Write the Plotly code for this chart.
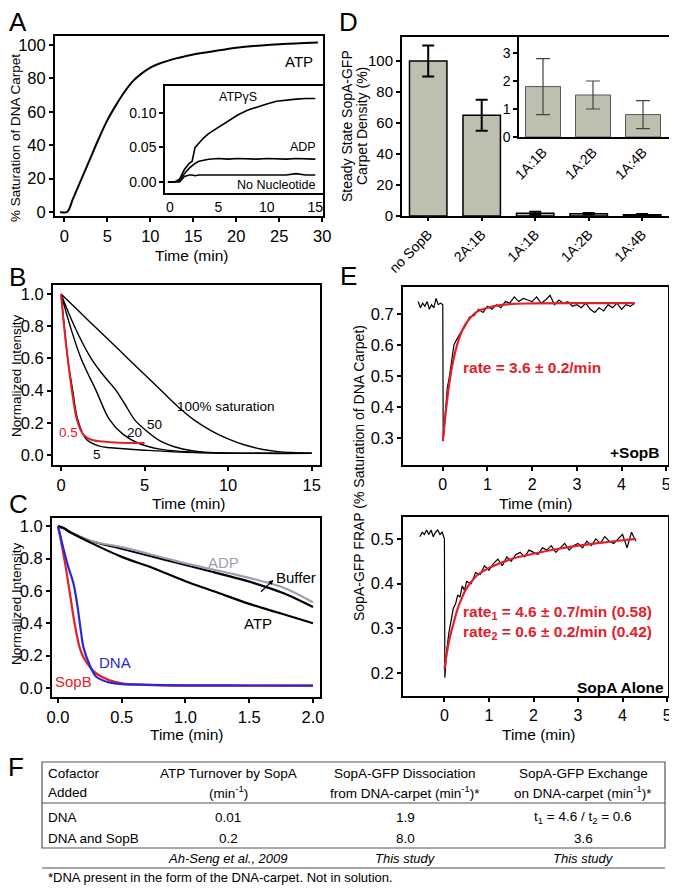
import plotly.graph_objects as go

W, H = 677, 888
OFF = 8          # the page body margin moves the figure by this much
FW, FH = W - OFF, H - OFF
FONT = 'Liberation Sans, Arial, sans-serif'
NARROW = 'Liberation Sans Narrow, Arial Narrow, Liberation Sans, sans-serif'
RED = '#e3202a'
BLUE = '#2828d8'
GRAY = '#9d9db2'
BAR = '#bfbfb0'

# ---- panel A : saturation of DNA carpet with ATP
a_time = [-0.5, 0.3, 1, 2, 3, 4, 5, 6, 7, 8, 9, 10, 11, 12, 13, 14, 15,
          16, 17, 18, 19, 20, 22, 24, 26, 28, 29.5]
a_atp = [0, 0, 8, 20, 32, 44, 55, 64, 72, 78.5, 83, 86.5, 88.8, 90.5, 92, 93.2, 94.3,
         95.2, 96, 96.8, 97.6, 98.3, 99.4, 100.2, 100.8, 101.2, 101.5]

# inset of A
ins_time = [-0.2, 0.5, 1, 1.5, 2, 2.3, 2.6, 3, 3.5, 4, 5, 6, 7, 8, 9, 10, 11, 12, 13, 14, 15]
ins_atpgs = [0, 0, 0.004, 0.018, 0.027, 0.03, 0.05, 0.057, 0.064, 0.07, 0.079, 0.089,
             0.097, 0.104, 0.109, 0.113, 0.117, 0.119, 0.12, 0.121, 0.121]
ins_adp = [0, 0, 0.002, 0.012, 0.02, 0.024, 0.027, 0.03, 0.032, 0.033, 0.034, 0.033,
           0.034, 0.033, 0.033, 0.034, 0.033, 0.033, 0.034, 0.033, 0.033]
ins_nonuc = [0, 0, 0, 0.008, 0.01, 0.01, 0.009, 0.01, 0.01, 0.01, 0.011, 0.01,
             0.01, 0.011, 0.01, 0.01, 0.011, 0.01, 0.012, 0.01, 0.01]

# ---- panel B : dissociation at different saturation
b100_t = [0, 1, 2, 3, 4, 5, 6, 7, 8, 9, 10, 11, 12, 13, 14, 15]
b100_v = [1, 0.9, 0.8, 0.7, 0.6, 0.5, 0.4, 0.3, 0.215, 0.15, 0.1, 0.062, 0.036, 0.021, 0.015, 0.012]
b50_t = [0, 0.8, 1.8, 2.5, 3.3, 3.8, 4.4, 5, 5.9, 7, 8.3, 10, 15]
b50_v = [1, 0.8, 0.6, 0.5, 0.4, 0.32, 0.22, 0.16, 0.09, 0.045, 0.02, 0.012, 0.01]
b20_t = [0, 0.55, 1.2, 2.1, 2.9, 3.7, 4.7, 6, 8, 10, 15]
b20_v = [1, 0.8, 0.6, 0.4, 0.22, 0.13, 0.07, 0.035, 0.018, 0.012, 0.01]
b5_t = [0, 0.2, 0.4, 0.7, 1.0, 1.5, 2.3, 3, 5, 8, 15]
b5_v = [1, 0.8, 0.6, 0.4, 0.22, 0.1, 0.055, 0.045, 0.03, 0.015, 0.01]
b05_t = [0, 0.18, 0.4, 0.65, 0.95, 1.25, 1.6, 2, 3, 4, 5]
b05_v = [1, 0.8, 0.6, 0.4, 0.22, 0.14, 0.105, 0.09, 0.08, 0.075, 0.075]

# ---- panel C : dissociation with cofactors
c_buf_t = [0, 0.05, 0.1, 0.25, 0.5, 0.85, 1.0, 1.2, 1.37, 1.55, 1.77, 2.0]
c_buf_v = [1.0, 0.985, 0.96, 0.91, 0.86, 0.79, 0.76, 0.72, 0.685, 0.645, 0.585, 0.5]
c_adp_t = [0, 0.05, 0.1, 0.25, 0.5, 0.85, 1.0, 1.2, 1.37, 1.55, 1.77, 2.0]
c_adp_v = [1.0, 0.985, 0.96, 0.91, 0.87, 0.8, 0.77, 0.735, 0.705, 0.67, 0.62, 0.53]
c_atp_t = [0, 0.05, 0.1, 0.25, 0.5, 0.75, 1.0, 1.25, 1.5, 1.75, 2.0]
c_atp_v = [1.0, 0.985, 0.96, 0.9, 0.81, 0.74, 0.66, 0.59, 0.52, 0.46, 0.4]
c_sopb_t = [0, 0.03, 0.06, 0.1, 0.13, 0.17, 0.2, 0.25, 0.3, 0.4, 0.5, 0.7, 1.0, 1.5, 2.0]
c_sopb_v = [1.0, 0.88, 0.75, 0.55, 0.4, 0.25, 0.19, 0.13, 0.09, 0.05, 0.03, 0.02, 0.015, 0.015, 0.015]
c_dna_t = [0, 0.04, 0.08, 0.12, 0.15, 0.18, 0.2, 0.25, 0.3, 0.4, 0.5, 0.7, 1.0, 1.5, 2.0]
c_dna_v = [1.0, 0.87, 0.75, 0.65, 0.52, 0.35, 0.25, 0.14, 0.07, 0.035, 0.025, 0.02, 0.017, 0.016, 0.015]

# ---- panel D : steady state density
d_cats = ['no SopB', '2A:1B', '1A:1B', '1A:2B', '1A:4B']
d_vals = [100, 65, 1.8, 1.5, 0.8]
d_err = [10, 10, 1.0, 0.5, 0.5]
d_ins_cats = ['1A:1B', '1A:2B', '1A:4B']
d_ins_vals = [1.8, 1.5, 0.8]
d_ins_err = [1.0, 0.5, 0.5]

# ---- panel E : FRAP
e1_t = [-0.55, -0.5, -0.45, -0.4, -0.35, -0.3, -0.25, -0.2, -0.15, -0.1, -0.05, 0.0, 0.01,
        0.05, 0.1, 0.15, 0.2, 0.25, 0.3, 0.4, 0.5, 0.6, 0.7, 0.8, 0.9, 1.0, 1.1, 1.2, 1.3,
        1.4, 1.5, 1.6, 1.7, 1.8, 1.9, 2.0, 2.1, 2.2, 2.3, 2.4, 2.5, 2.6, 2.7, 2.8, 2.9, 3.0,
        3.1, 3.2, 3.3, 3.4, 3.5, 3.6, 3.7, 3.8, 3.9, 4.0, 4.1, 4.2, 4.3]
e1_v = [0.74, 0.72, 0.735, 0.725, 0.74, 0.715, 0.73, 0.72, 0.75, 0.73, 0.735, 0.73, 0.29,
        0.36, 0.46, 0.5, 0.55, 0.6, 0.615, 0.64, 0.66, 0.69, 0.695, 0.715, 0.705, 0.725, 0.715,
        0.73, 0.72, 0.74, 0.735, 0.755, 0.74, 0.75, 0.745, 0.74, 0.755, 0.735, 0.745, 0.76,
        0.73, 0.745, 0.735, 0.74, 0.725, 0.73, 0.72, 0.735, 0.715, 0.705, 0.72, 0.71, 0.73,
        0.72, 0.735, 0.715, 0.73, 0.725, 0.735]
e1_fit_t = [0, 0.05, 0.1, 0.15, 0.2, 0.25, 0.3, 0.4, 0.5, 0.6, 0.7, 0.8, 1.0, 1.2, 1.5, 2, 3, 4.3]
e1_fit_v = [0.29, 0.36, 0.425, 0.48, 0.525, 0.56, 0.59, 0.635, 0.665, 0.685, 0.7, 0.71,
            0.72, 0.727, 0.732, 0.734, 0.735, 0.735]

e2_t = [-0.55, -0.5, -0.45, -0.4, -0.35, -0.3, -0.25, -0.2, -0.15, -0.1, -0.05, 0.0, 0.01,
        0.05, 0.1, 0.15, 0.2, 0.25, 0.3, 0.35, 0.4, 0.45, 0.5, 0.6, 0.7, 0.8, 0.9, 1.0, 1.1,
        1.2, 1.3, 1.4, 1.5, 1.6, 1.7, 1.8, 1.9, 2.0, 2.1, 2.2, 2.3, 2.4, 2.5, 2.6, 2.7, 2.8,
        2.9, 3.0, 3.1, 3.2, 3.3, 3.4, 3.5, 3.6, 3.7, 3.8, 3.9, 4.0, 4.1, 4.2, 4.3]
e2_v = [0.505, 0.515, 0.51, 0.52, 0.51, 0.52, 0.505, 0.515, 0.52, 0.51, 0.515, 0.5, 0.19,
        0.25, 0.29, 0.32, 0.345, 0.355, 0.375, 0.37, 0.395, 0.385, 0.405, 0.4, 0.425, 0.42,
        0.44, 0.43, 0.445, 0.455, 0.44, 0.46, 0.45, 0.465, 0.47, 0.46, 0.475, 0.47, 0.465,
        0.48, 0.475, 0.485, 0.47, 0.48, 0.49, 0.475, 0.485, 0.49, 0.48, 0.495, 0.485, 0.5,
        0.49, 0.505, 0.495, 0.49, 0.5, 0.51, 0.48, 0.515, 0.495]
e2_fit_t = [0, 0.1, 0.2, 0.3, 0.4, 0.5, 0.75, 1, 1.5, 2, 2.5, 3, 3.5, 4, 4.3]
e2_fit_v = [0.21, 0.27, 0.31, 0.345, 0.37, 0.39, 0.42, 0.435, 0.455, 0.467, 0.477, 0.485,
            0.491, 0.497, 0.5]

# ---- panel F : table
f_head1 = ['Cofactor', 'ATP Turnover by SopA', 'SopA-GFP Dissociation', 'SopA-GFP Exchange']
f_head2 = ['Added', '(min<sup>-1</sup>)', 'from DNA-carpet (min<sup>-1</sup>)*',
           'on DNA-carpet (min<sup>-1</sup>)*']
f_row1 = ['DNA', '0.01', '1.9', 't<sub>1</sub> = 4.6 / t<sub>2</sub> = 0.6']
f_row2 = ['DNA and SopB', '0.2', '8.0', '3.6']
f_cite = ['', 'Ah-Seng et al., 2009', 'This study', 'This study']
f_note = '*DNA present in the form of the DNA-carpet. Not in solution.'


# positions below are pixels of the 677x888 page
def px(x):
    return (x - OFF) / FW


def py(y):
    return 1 - (y - OFF) / FH


def dom(x0, x1, y0, y1):
    return [px(x0), px(x1)], [py(y1), py(y0)]


base = dict(showline=True, mirror=True, linecolor='black', linewidth=2,
            ticks='outside', ticklen=4, tickwidth=1.5, tickcolor='black',
            showgrid=False, zeroline=False, automargin=False,
            tickfont=dict(size=16.5, color='black', family=FONT))
small = dict(base, linewidth=1.5, ticklen=4, tickfont=dict(size=14, color='black', family=FONT))

fig = go.Figure()


def line(x, y, xa, ya, color='black', width=1.8, shape='spline'):
    fig.add_trace(go.Scatter(x=x, y=y, xaxis=xa, yaxis=ya, mode='lines',
                             line=dict(color=color, width=width, shape=shape),
                             showlegend=False, hoverinfo='skip'))


line(a_time, a_atp, 'x', 'y', width=2)
line(ins_time, ins_atpgs, 'x2', 'y2', width=1.6, shape='linear')
line(ins_time, ins_adp, 'x2', 'y2', width=1.6, shape='linear')
line(ins_time, ins_nonuc, 'x2', 'y2', width=1.6, shape='linear')

for t, v in [(b100_t, b100_v), (b50_t, b50_v), (b20_t, b20_v), (b5_t, b5_v)]:
    line(t, v, 'x3', 'y3', width=1.4)
line(b05_t, b05_v, 'x3', 'y3', color=RED, width=2)

line(c_buf_t, c_buf_v, 'x4', 'y4', width=2.2)
line(c_adp_t, c_adp_v, 'x4', 'y4', color=GRAY, width=2.2)
line(c_atp_t, c_atp_v, 'x4', 'y4', width=2.2)
line(c_sopb_t, c_sopb_v, 'x4', 'y4', color=RED, width=2.2)
line(c_dna_t, c_dna_v, 'x4', 'y4', color=BLUE, width=2.2)

fig.add_trace(go.Bar(x=d_cats, y=d_vals, xaxis='x5', yaxis='y5', showlegend=False,
                     marker=dict(color=BAR, line=dict(color='black', width=1.5)),
                     error_y=dict(type='data', array=d_err, color='black', thickness=2, width=6)))
fig.add_trace(go.Bar(x=d_ins_cats, y=d_ins_vals, xaxis='x6', yaxis='y6', showlegend=False,
                     marker=dict(color=BAR, line=dict(color='#555555', width=1)),
                     error_y=dict(type='data', array=d_ins_err, color='#444444', thickness=1.2, width=7)))

line(e1_t, e1_v, 'x7', 'y7', width=1.2, shape='linear')
line(e1_fit_t, e1_fit_v, 'x7', 'y7', color=RED, width=2.2)
line(e2_t, e2_v, 'x8', 'y8', width=1.2, shape='linear')
line(e2_fit_t, e2_fit_v, 'x8', 'y8', color=RED, width=2.2)

layout = dict(template='none', width=FW, height=FH, margin=dict(l=0, r=0, t=0, b=0, pad=0),
              paper_bgcolor='white', plot_bgcolor='white', bargap=0.3,
              font=dict(family=FONT, color='black'))

xd, yd = dom(55, 323, 36, 216)
layout['xaxis'] = dict(base, domain=xd, anchor='y', range=[-1.1, 30.1], tickvals=[0, 5, 10, 15, 20, 25, 30])
layout['yaxis'] = dict(base, domain=yd, anchor='x', range=[-2.4, 105.4], tickvals=[0, 20, 40, 60, 80, 100])
xd, yd = dom(165, 323, 86, 193)
layout['xaxis2'] = dict(small, domain=xd, anchor='y2', range=[-0.5, 15.8], tickvals=[0, 5, 10, 15], ticks='')
layout['yaxis2'] = dict(small, domain=yd, anchor='x2', range=[-0.016, 0.139], tickvals=[0, 0.05, 0.1],
                        tickformat='.2f')
xd, yd = dom(53, 320, 285, 465)
layout['xaxis3'] = dict(base, domain=xd, anchor='y3', range=[-0.48, 15.5], tickvals=[0, 5, 10, 15])
layout['yaxis3'] = dict(base, domain=yd, anchor='x3', range=[-0.062, 1.056],
                        tickvals=[0, 0.2, 0.4, 0.6, 0.8, 1.0], tickformat='.1f')
xd, yd = dom(52, 320, 518, 697)
layout['xaxis4'] = dict(base, domain=xd, anchor='y4', range=[-0.047, 2.055],
                        tickvals=[0, 0.5, 1, 1.5, 2], tickformat='.1f')
layout['yaxis4'] = dict(base, domain=yd, anchor='x4', range=[-0.055, 1.05],
                        tickvals=[0, 0.2, 0.4, 0.6, 0.8, 1.0], tickformat='.1f')
xd, yd = dom(402, 670, 37, 216)
layout['xaxis5'] = dict(base, domain=xd, anchor='y5', range=[-0.49, 4.52], tickangle=-45,
                        ticklen=3, tickfont=dict(size=14, color='black', family=FONT))
layout['yaxis5'] = dict(base, domain=yd, anchor='x5', range=[0, 115.5], tickvals=[0, 20, 40, 60, 80, 100],
                        tickfont=dict(size=15, color='black', family=FONT))
xd, yd = dom(519, 670, 37, 137)
layout['xaxis6'] = dict(small, domain=xd, anchor='y6', range=[-0.48, 2.54], tickangle=-45, ticks='')
layout['yaxis6'] = dict(small, domain=yd, anchor='x6', range=[0, 3.57], tickvals=[0, 1, 2, 3])
xd, yd = dom(403, 668, 287, 465)
layout['xaxis7'] = dict(base, domain=xd, anchor='y7', range=[-0.89, 5.04], tickvals=[0, 1, 2, 3, 4, 5],
                        tickfont=dict(size=16, color='black', family=FONT))
layout['yaxis7'] = dict(base, domain=yd, anchor='x7', range=[0.213, 0.787],
                        tickvals=[0.3, 0.4, 0.5, 0.6, 0.7], tickformat='.1f')
xd, yd = dom(403, 668, 517, 696)
layout['xaxis8'] = dict(base, domain=xd, anchor='y8', range=[-0.93, 5.02], tickvals=[0, 1, 2, 3, 4, 5],
                        tickfont=dict(size=16, color='black', family=FONT))
layout['yaxis8'] = dict(base, domain=yd, anchor='x8', range=[0.149, 0.549],
                        tickvals=[0.2, 0.3, 0.4, 0.5], tickformat='.1f')

ann = []


def text(x, y, s, size=15, color='black', xref='paper', yref='paper', angle=0,
         xanchor='center', bold=False, italic=False, family=FONT):
    if xref == 'paper':
        x = px(x)
    if yref == 'paper':
        y = py(y)
    if bold:
        s = '<b>' + s + '</b>'
    if italic:
        s = '<i>' + s + '</i>'
    ann.append(dict(x=x, y=y, xref=xref, yref=yref, text=s, showarrow=False,
                    textangle=angle, xanchor=xanchor, yanchor='middle',
                    font=dict(size=size, color=color, family=family)))


# panel letters
for letter, lx, ly in [('A', 18, 22), ('B', 17, 277), ('C', 18, 504),
                       ('D', 348, 22), ('E', 349, 276), ('F', 16, 767)]:
    text(lx, ly, letter, size=26)

# axis titles
text(16, 138, '% Saturation of DNA Carpet', size=13.5, angle=-90)
text(191, 255, 'Time (min)', size=15.5)
text(16, 376, 'Normalized Intensity', size=13.5, angle=-90)
text(188, 504, 'Time (min)', size=15.5)
text(16, 604, 'Normalized Intensity', size=13.5, angle=-90)
text(187, 734, 'Time (min)', size=15.5)
text(347, 126, 'Steady State SopA-GFP', size=14, angle=-90)
text(362, 126, 'Carpet Density (%)', size=14, angle=-90)
text(359, 473, 'SopA-GFP FRAP (% Saturation of DNA Carpet)', size=14, angle=-90)
text(535, 504, 'Time (min)', size=15.5)
text(538, 734, 'Time (min)', size=15.5)

# curve labels
text(27.3, 90, 'ATP', size=15, xref='x', yref='y')
text(7.0, 0.123, 'ATPγS', size=12.5, xref='x2', yref='y2')
text(13.7, 0.051, 'ADP', size=12.5, xref='x2', yref='y2')
text(11.0, -0.004, 'No Nucleotide', size=12.5, xref='x2', yref='y2')

text(9.9, 0.30, '100% saturation', size=13.5, xref='x3', yref='y3')
text(5.6, 0.19, '50', size=13.5, xref='x3', yref='y3')
text(4.4, 0.137, '20', size=13.5, xref='x3', yref='y3')
text(2.15, 0.005, '5', size=13.5, xref='x3', yref='y3')
text(0.42, 0.137, '0.5', size=13.5, color=RED, xref='x3', yref='y3')

text(1.3, 0.775, 'ADP', size=15, color=GRAY, xref='x4', yref='y4')
text(1.87, 0.685, 'Buffer', size=15, xref='x4', yref='y4')
text(1.57, 0.40, 'ATP', size=15, xref='x4', yref='y4')
text(0.45, 0.155, 'DNA', size=15, color=BLUE, xref='x4', yref='y4')
text(0.12, 0.04, 'SopB', size=15, color=RED, xref='x4', yref='y4')
ann.append(dict(x=1.69, y=0.667, ax=1.58, ay=0.586, xref='x4', yref='y4', axref='x4', ayref='y4',
                text='', showarrow=True, arrowhead=2, arrowsize=0.8, arrowwidth=1.2,
                arrowcolor='black'))

text(2.0, 0.529, 'rate = 3.6 ± 0.2/min', size=15.5, color=RED, bold=True, xref='x7', yref='y7')
text(4.9, 0.252, '+SopB', size=15.5, bold=True, xanchor='right', xref='x7', yref='y7')
text(2.53, 0.336, 'rate<sub>1</sub> = 4.6 ± 0.7/min (0.58)', size=15.5, color=RED, bold=True,
     xref='x8', yref='y8')
text(2.53, 0.291, 'rate<sub>2</sub> = 0.6 ± 0.2/min (0.42)', size=15.5, color=RED, bold=True,
     xref='x8', yref='y8')
text(4.97, 0.168, 'SopA Alone', size=15.5, bold=True, xanchor='right', xref='x8', yref='y8')

# table F
col_x = [46, 228, 405, 583]
for i in range(4):
    anchor = 'left' if i == 0 else 'center'
    text(col_x[i], 773, f_head1[i], size=13.5, xanchor=anchor, family=NARROW)
    text(col_x[i], 792, f_head2[i], size=13.5, xanchor=anchor, family=NARROW)
    text(col_x[i], 817, f_row1[i], size=13.5, xanchor=anchor, family=NARROW)
    text(col_x[i], 838, f_row2[i], size=13.5, xanchor=anchor, family=NARROW)
    if f_cite[i]:
        text(col_x[i], 858, f_cite[i], size=13, italic=True, family=NARROW)
text(46, 877, f_note, size=13, xanchor='left', family=NARROW)

shapes = [
    dict(type='rect', xref='paper', yref='paper', x0=px(42), x1=px(665), y0=py(848), y1=py(762),
         line=dict(color='#555555', width=1.2)),
    dict(type='line', xref='paper', yref='paper', x0=px(42), x1=px(665), y0=py(803), y1=py(803),
         line=dict(color='#555555', width=1.2)),
    dict(type='line', xref='paper', yref='paper', x0=px(42), x1=px(665), y0=py(868), y1=py(868),
         line=dict(color='#888888', width=1.5)),
]

layout['annotations'] = ann
layout['shapes'] = shapes
fig.update_layout(**layout)

fig.write_html('out.html')
